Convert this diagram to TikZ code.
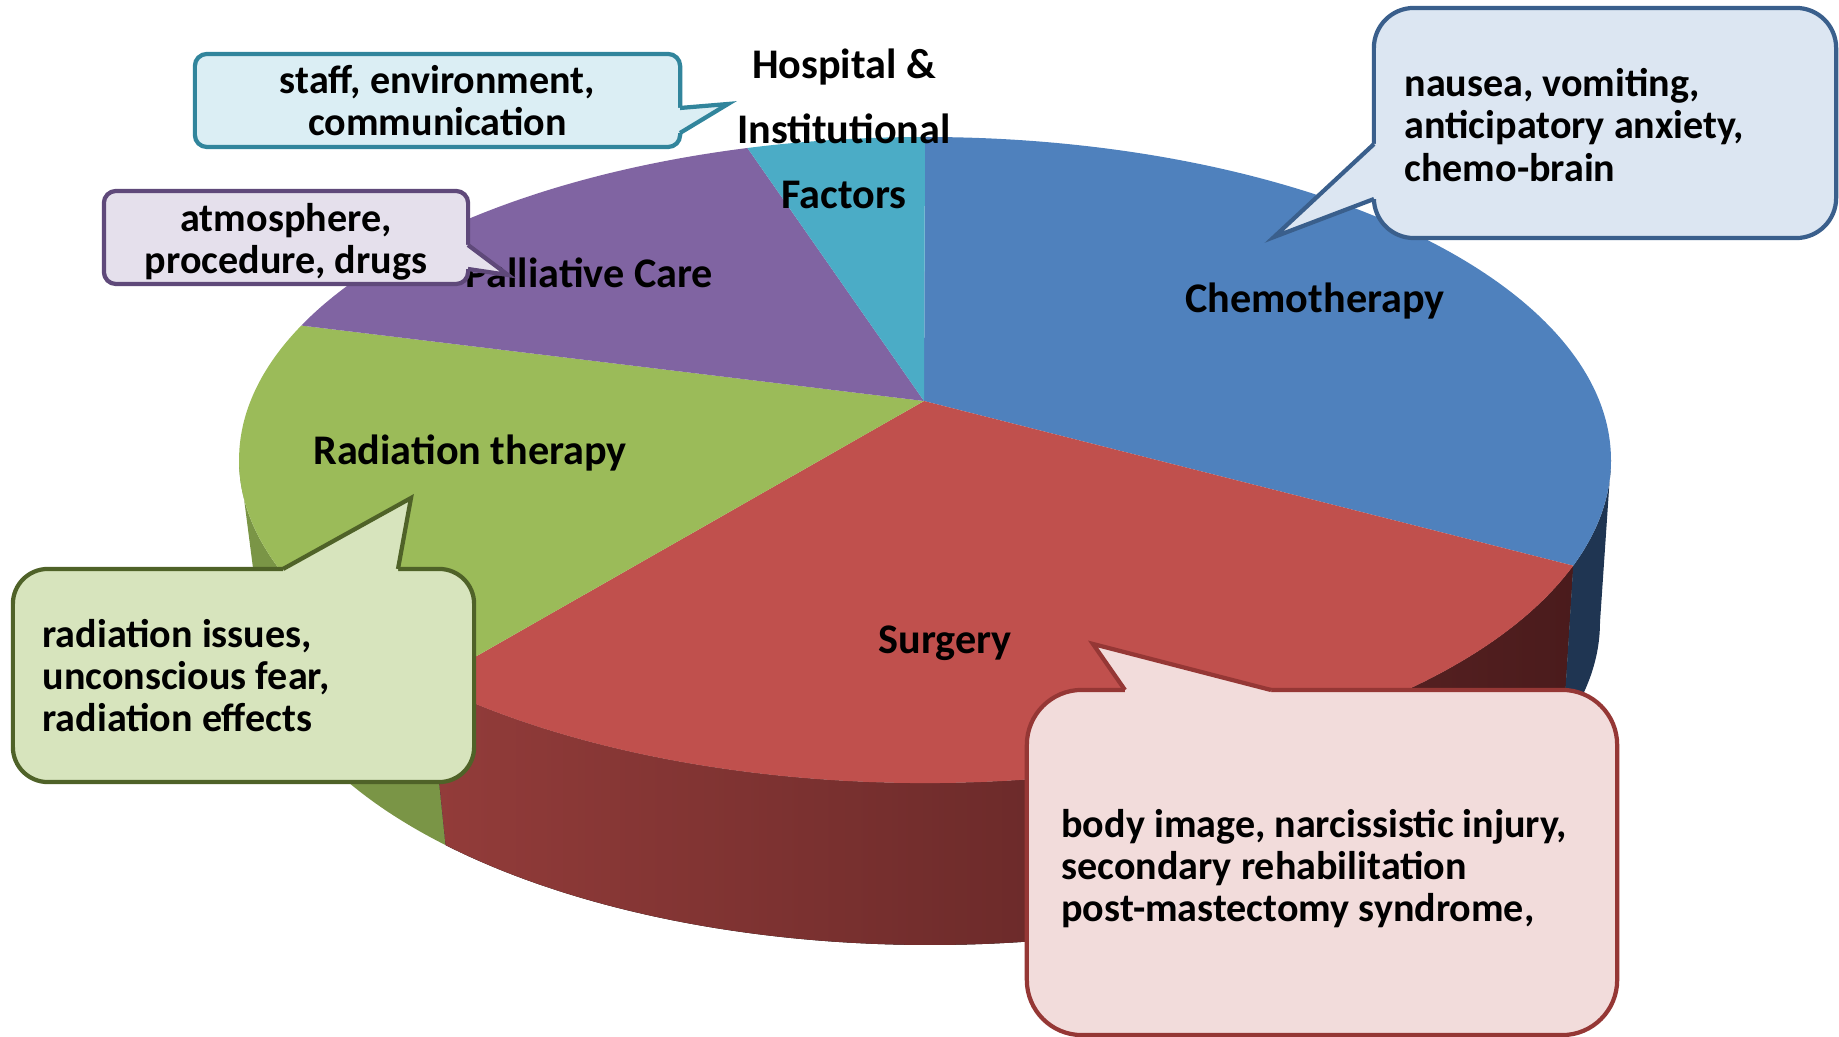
\documentclass[tikz,border=0pt]{standalone}
\usepackage{fontspec}
\setmainfont{Carlito}
\usepackage{xcolor}
\usetikzlibrary{positioning,calc}

\definecolor{chemoTop}{HTML}{4F81BD}
\definecolor{chemoSide}{HTML}{1F3552}
\definecolor{surgTop}{HTML}{C0504D}
\definecolor{surgSideL}{HTML}{933C3A}
\definecolor{surgSideR}{HTML}{4A1B1C}
\definecolor{radTop}{HTML}{9BBB59}
\definecolor{radSide}{HTML}{7A9546}
\definecolor{pallTop}{HTML}{8064A2}
\definecolor{hospTop}{HTML}{4BACC6}

\definecolor{hospFill}{HTML}{DBEEF4}
\definecolor{hospLine}{HTML}{31859C}
\definecolor{pallFill}{HTML}{E5E0EC}
\definecolor{pallLine}{HTML}{5F497A}
\definecolor{chemoFill}{HTML}{DCE6F2}
\definecolor{chemoLine}{HTML}{3A5F8C}
\definecolor{radFill}{HTML}{D7E4BD}
\definecolor{radLine}{HTML}{4F6228}
\definecolor{surgFill}{HTML}{F2DCDB}
\definecolor{surgLine}{HTML}{953735}

\tikzset{
  lbl/.style={font=\bfseries\fontsize{12}{12}\selectfont, inner sep=0pt},
  note/.style={font=\bfseries\fontsize{11.4}{12}\selectfont, inner sep=0pt, align=left},
  bubble/.style={draw, line width=1.2pt, inner sep=0pt},
  tipline/.style={line width=1.2pt, line join=miter}
}

\begin{document}
\begin{tikzpicture}[x=0.01cm, y=-0.01cm]

   \useasboundingbox (0,0) rectangle (1839,1037);

   \coordinate (apex) at (924,401);
   \coordinate (topC) at (925,460);
   \coordinate (botC) at (930,622);

   % side of the pie
   \fill[radSide] ($(topC)+(136.3:686 and 323)$) arc[start angle=136.3, end angle=180, x radius=686, y radius=323]
      -- ($(botC)+(180:670 and 323)$) arc[start angle=180, end angle=136.3, x radius=670, y radius=323] -- cycle;
   \fill[left color=surgSideL, right color=surgSideR] ($(topC)+(19.1:686 and 323)$) arc[start angle=19.1, end angle=136.3, x radius=686, y radius=323]
      -- ($(botC)+(136.3:670 and 323)$) arc[start angle=136.3, end angle=19.1, x radius=670, y radius=323] -- cycle;
   \fill[chemoSide] ($(topC)+(0:686 and 323)$) arc[start angle=0, end angle=19.1, x radius=686, y radius=323]
      -- ($(botC)+(19.1:670 and 323)$) arc[start angle=19.1, end angle=0, x radius=670, y radius=323] -- cycle;

   % top of the pie
   \foreach \a/\b/\c in {-90/19.1/chemoTop, 19.1/136.3/surgTop, 136.3/204.6/radTop, 204.6/255/pallTop, 255/270/hospTop}
      \fill[\c] (apex) -- ($(topC)+(\a:686 and 323)$) arc[start angle=\a, end angle=\b, x radius=686, y radius=323] -- cycle;

   \node[lbl] (chemo) at (1315,301) {Chemotherapy};
   \node[lbl] (surg) at (945,643) {Surgery};
   \node[lbl] (rad) at (470,453) {Radiation therapy};
   \node[lbl] (pall) at (589,273) {Palliative Care};
   \node[lbl, align=center, font=\bfseries\fontsize{12}{18.5}\selectfont] (hosp) at (844,129) {Hospital \&\\Institutional\\Factors};

   % callouts
   \node[bubble, note, align=center, draw=hospLine, fill=hospFill, rounded corners=0.12cm,
         minimum width=4.85cm, minimum height=0.93cm] (hospBox) at (437.5,100.5) {staff, environment,\\communication};
   \coordinate (hospTip) at (728,104);
   \fill[hospFill] (675,108) -- (680,108) -- (hospTip) -- (680,133) -- (675,133) -- cycle;
   \draw[tipline, hospLine] (680,108) -- (hospTip) -- (680,133);

   \node[bubble, note, align=center, draw=pallLine, fill=pallFill, rounded corners=0.12cm,
         minimum width=3.64cm, minimum height=0.93cm] (pallBox) at (286,237.5) {};
   \node[note, align=center, yshift=-0.04cm] (pallTxt) at (pallBox) {atmosphere,\\procedure, drugs};
   \coordinate (pallTip) at (508,275);
   \fill[pallFill] (463,245) -- (468,245) -- (pallTip) -- (468,269) -- (463,269) -- cycle;
   \draw[tipline, pallLine] (468,245) -- (pallTip) -- (468,269);

   \node[bubble, draw=chemoLine, fill=chemoFill, rounded corners=0.4cm,
         minimum width=4.62cm, minimum height=2.30cm] (chemoBox) at (1605,123) {};
   \coordinate (chemoTip) at (1274,237);
   \fill[chemoFill] (1379,144) -- (1374,144) -- (chemoTip) -- (1374,199) -- (1379,199) -- cycle;
   \draw[tipline, chemoLine] (1374,144) -- (chemoTip) -- (1374,199);
   \node[note, right=0.32cm of chemoBox.west, yshift=-0.02cm] (chemoTxt) {nausea, vomiting,\\anticipatory anxiety,\\chemo-brain};

   \node[bubble, draw=radLine, fill=radFill, rounded corners=0.35cm,
         minimum width=4.61cm, minimum height=2.13cm] (radBox) at (243.5,675.5) {};
   \coordinate (radTip) at (411,498);
   \fill[radFill] (283,575) -- (283,569) -- (radTip) -- (398,569) -- (398,575) -- cycle;
   \draw[tipline, radLine] (283,569) -- (radTip) -- (398,569);
   \node[note, right=0.31cm of radBox.west] (radTxt) {radiation issues,\\unconscious fear,\\radiation effects};

   \node[bubble, draw=surgLine, fill=surgFill, rounded corners=0.55cm,
         minimum width=5.90cm, minimum height=3.45cm] (surgBox) at (1322,862.5) {};
   \coordinate (surgTip) at (1093,644);
   \fill[surgFill] (1125,696) -- (1125,690) -- (surgTip) -- (1271,690) -- (1271,696) -- cycle;
   \draw[tipline, surgLine] (1125,690) -- (surgTip) -- (1271,690);
   \node[note, right=0.36cm of surgBox.west, yshift=-0.06cm] (surgTxt) {body image, narcissistic injury,\\secondary rehabilitation\\post-mastectomy syndrome,};

\end{tikzpicture}
\end{document}
